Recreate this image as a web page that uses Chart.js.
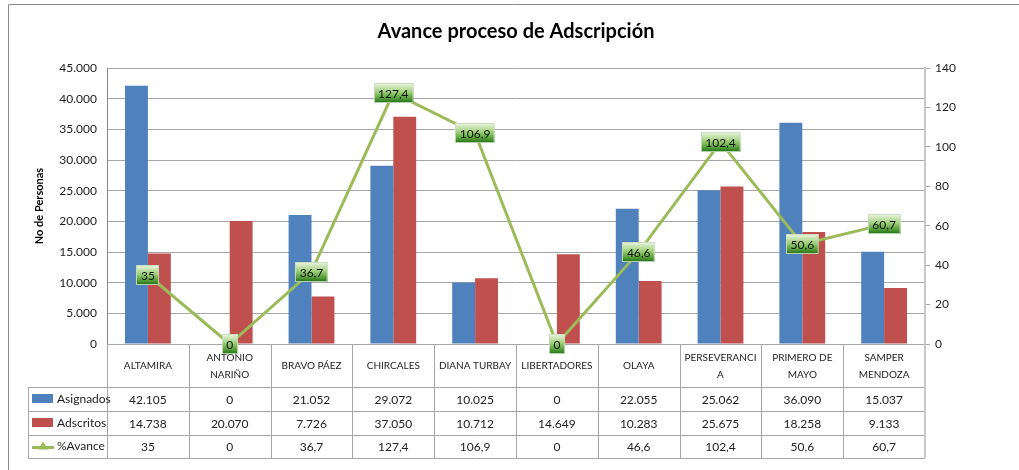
<!DOCTYPE html>
<html>
<head>
<meta charset="utf-8">
<script src="https://cdn.jsdelivr.net/npm/chart.js@4"></script>
<style>
  body { margin: 0; background: #fff; }
  canvas { display: block; }
</style>
</head>
<body>
<canvas id="myChart" width="1019" height="470"></canvas>
<script>
const categories = [
  ["ALTAMIRA"],
  ["ANTONIO", "NARIÑO"],
  ["BRAVO PÁEZ"],
  ["CHIRCALES"],
  ["DIANA TURBAY"],
  ["LIBERTADORES"],
  ["OLAYA"],
  ["PERSEVERANCI", "A"],
  ["PRIMERO DE", "MAYO"],
  ["SAMPER", "MENDOZA"],
];
const asignados = [42105, 0, 21052, 29072, 10025, 0, 22055, 25062, 36090, 15037];
const adscritos = [14738, 20070, 7726, 37050, 10712, 14649, 10283, 25675, 18258, 9133];
const avance = [35, 0, 36.7, 127.4, 106.9, 0, 46.6, 102.4, 50.6, 60.7];

const BLUE = "#4F81BD";
const RED = "#C0504D";
const GREEN = "#9BBB59";
const FONT = "Lato";

// 42105 -> "42.105", 36.7 -> "36,7"
const fmt = (v) => {
  const parts = String(v).split(".");
  parts[0] = parts[0].replace(/\B(?=(\d{3})+(?!\d))/g, ".");
  return parts.join(",");
};

const tablePlugin = {
  id: "tablePlugin",
  afterDraw(chart) {
    const c = chart.ctx;
    const area = chart.chartArea;
    const n = categories.length;
    const w = (area.right - area.left) / n;
    const top = area.bottom;
    const rowY = [top + 43, top + 67, top + 91, top + 114];
    const legendLeft = 28;

    c.save();
    // outer frame
    c.strokeStyle = "#8a8a8a";
    c.lineWidth = 1;
    c.beginPath();
    c.moveTo(8.5, 470);
    c.lineTo(8.5, 4.5);
    c.lineTo(1019, 4.5);
    c.stroke();

    // table lines
    c.strokeStyle = "#a6a6a6";
    c.beginPath();
    for (let i = 0; i < n; i++) {
      const x = Math.round(area.left + i * w) + 0.5;
      c.moveTo(x, top);
      c.lineTo(x, rowY[3]);
    }
    rowY.forEach((y) => {
      c.moveTo(legendLeft, y + 0.5);
      c.lineTo(area.right, y + 0.5);
    });
    c.moveTo(legendLeft + 0.5, rowY[0]);
    c.lineTo(legendLeft + 0.5, rowY[3]);
    c.stroke();

    c.strokeStyle = "#c8c8c8";
    c.lineWidth = 2;
    c.beginPath();
    c.moveTo(area.right, top);
    c.lineTo(area.right, rowY[3]);
    c.stroke();

    // category header
    c.fillStyle = "#222";
    c.textAlign = "center";
    c.textBaseline = "middle";
    c.font = "10px " + FONT;
    categories.forEach((lab, i) => {
      const cx = area.left + (i + 0.5) * w;
      const cy = (top + rowY[0]) / 2;
      if (lab.length === 1) {
        c.fillText(lab[0], cx, cy);
      } else {
        c.fillText(lab[0], cx, cy - 8);
        c.fillText(lab[1], cx, cy + 9);
      }
    });

    // value rows
    c.font = "12px " + FONT;
    const rows = [asignados, adscritos, avance];
    rows.forEach((vals, r) => {
      const cy = (rowY[r] + rowY[r + 1]) / 2 + 1;
      vals.forEach((v, i) => {
        c.fillText(fmt(v), area.left + (i + 0.5) * w, cy);
      });
    });

    // legend keys
    c.textAlign = "left";
    const names = chart.data.datasets.map((d) => d.label);
    names.forEach((name, r) => {
      const cy = (rowY[r] + rowY[r + 1]) / 2;
      if (r < 2) {
        c.fillStyle = r === 0 ? BLUE : RED;
        c.fillRect(32, cy - 5, 21, 9);
      } else {
        c.strokeStyle = GREEN;
        c.lineWidth = 3;
        c.beginPath();
        c.moveTo(32, cy + 1);
        c.lineTo(54, cy + 1);
        c.stroke();
        c.fillStyle = GREEN;
        c.beginPath();
        c.moveTo(43, cy - 5);
        c.lineTo(48, cy + 3);
        c.lineTo(38, cy + 3);
        c.closePath();
        c.fill();
      }
      c.fillStyle = "#222";
      c.fillText(name, 57, cy);
    });

    // data labels for the line
    const meta = chart.getDatasetMeta(2);
    c.font = "12px " + FONT;
    c.textAlign = "center";
    meta.data.forEach((pt, i) => {
      const txt = fmt(avance[i]);
      const bw = c.measureText(txt).width + 9;
      const bh = 20;
      const x0 = Math.round(pt.x - bw / 2);
      const y0 = Math.round(pt.y - bh / 2);
      const g = c.createLinearGradient(0, y0, 0, y0 + bh);
      g.addColorStop(0, "#eef6e4");
      g.addColorStop(0.45, "#9fd07a");
      g.addColorStop(0.8, "#4e9a32");
      g.addColorStop(1, "#1f6a16");
      c.fillStyle = g;
      c.fillRect(x0, y0, bw, bh);
      c.strokeStyle = "rgba(200,220,190,0.9)";
      c.lineWidth = 1;
      c.strokeRect(x0 + 0.5, y0 + 0.5, bw - 1, bh - 1);
      c.fillStyle = "#111";
      c.fillText(txt, pt.x, pt.y + 1);
    });
    c.restore();
  },
};

const data = {
  labels: categories.map((l) => l.join(" ")),
  datasets: [
    {
      type: "bar",
      label: "Asignados",
      data: asignados,
      backgroundColor: BLUE,
      yAxisID: "y",
      order: 1,
    },
    {
      type: "bar",
      label: "Adscritos",
      data: adscritos,
      backgroundColor: RED,
      yAxisID: "y",
      order: 1,
    },
    {
      type: "line",
      label: "%Avance",
      data: avance,
      borderColor: GREEN,
      borderWidth: 3,
      pointRadius: 0,
      yAxisID: "y1",
      order: 0,
    },
  ],
};

const config = {
  type: "bar",
  data: data,
  options: {
    responsive: false,
    animation: false,
    layout: {
      padding: { left: 0, right: 0, top: 0, bottom: 126 },
    },
    datasets: {
      bar: { categoryPercentage: 0.56, barPercentage: 1.0 },
    },
    plugins: {
      legend: { display: false },
      tooltip: { enabled: false },
      title: {
        display: true,
        fullSize: false,
        text: "Avance proceso de Adscripción",
        color: "#000",
        font: { family: FONT, size: 20, weight: "bold" },
        padding: { top: 20, bottom: 24 },
      },
    },
    scales: {
      x: {
        display: false,
      },
      y: {
        position: "left",
        min: 0,
        max: 45000,
        afterFit: (s) => { s.width = 107; },
        ticks: {
          stepSize: 5000,
          padding: 10,
          color: "#222",
          font: { family: FONT, size: 12 },
          callback: (v) => fmt(v),
        },
        grid: { color: "#a6a6a6", drawTicks: false },
        border: { color: "#868686" },
        title: {
          display: true,
          text: "No de Personas",
          color: "#000",
          font: { family: FONT, size: 11, weight: "bold" },
          padding: { top: 33, bottom: 0 },
        },
      },
      y1: {
        position: "right",
        min: 0,
        max: 140,
        afterFit: (s) => { s.width = 94; },
        ticks: {
          stepSize: 20,
          padding: 5,
          color: "#222",
          font: { family: FONT, size: 12 },
        },
        grid: { drawOnChartArea: false, tickLength: 5, color: "#a6a6a6" },
        border: { color: "#c8c8c8", width: 2 },
      },
    },
  },
  plugins: [tablePlugin],
};

new Chart(document.getElementById("myChart").getContext("2d"), config);
</script>
</body>
</html>
